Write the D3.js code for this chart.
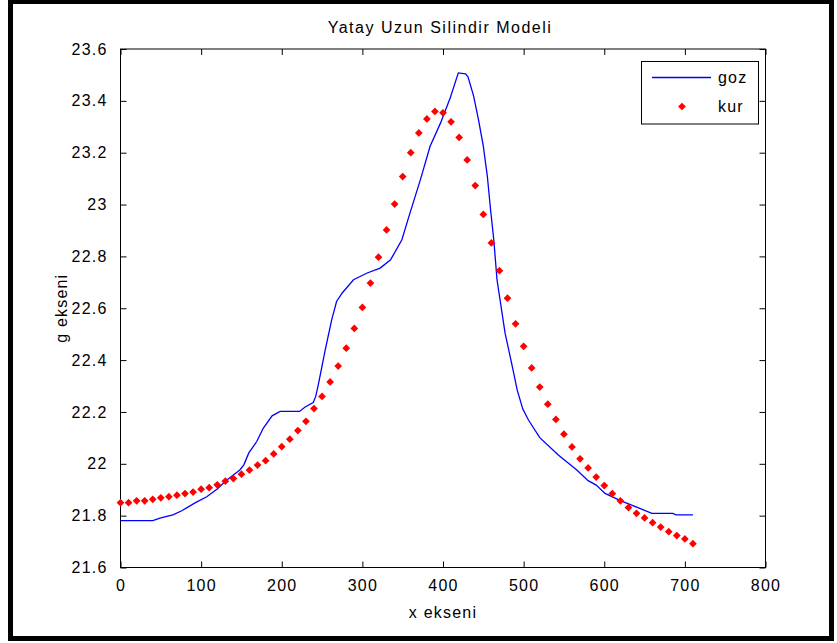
<!DOCTYPE html>
<html>
<head>
<meta charset="utf-8">
<script src="https://cdn.jsdelivr.net/npm/d3@7"></script>
<style>
  html, body { margin: 0; padding: 0; background: #fff; }
  svg { display: block; }
  text { font-family: "Liberation Sans", Arial, sans-serif; fill: #000; }
</style>
</head>
<body>
<svg id="chart" width="837" height="643"></svg>
<script>
// ---- Data ----
const titleText = "Yatay Uzun Silindir Modeli";
const xLabel = "x ekseni";
const yLabel = "g ekseni";
const seriesNames = ["goz", "kur"];

// goz (observed) – line vertices
const gozX = [0, 40, 50, 65, 76, 93, 107, 120, 132, 148, 153, 159, 169, 177, 188, 198, 222, 229, 239, 242, 245, 254, 262, 268, 275, 289, 306, 322, 335, 349, 359, 372, 384, 397, 409, 419, 428, 431, 438, 444, 450, 455, 459, 463, 467, 477, 486, 492, 499, 506, 520, 543, 566, 580, 590, 601, 620, 641, 659, 685, 689, 710];
const gozY = [21.781, 21.781, 21.791, 21.803, 21.819, 21.850, 21.873, 21.903, 21.938, 21.976, 21.996, 22.041, 22.086, 22.137, 22.185, 22.202, 22.202, 22.219, 22.236, 22.259, 22.300, 22.440, 22.556, 22.626, 22.659, 22.710, 22.736, 22.755, 22.787, 22.864, 22.967, 23.096, 23.225, 23.315, 23.412, 23.508, 23.504, 23.493, 23.418, 23.328, 23.225, 23.109, 22.980, 22.864, 22.710, 22.504, 22.375, 22.285, 22.211, 22.169, 22.101, 22.034, 21.976, 21.935, 21.918, 21.886, 21.858, 21.832, 21.809, 21.809, 21.803, 21.803];

// kur (computed) – markers
const kurX = [0, 10, 20, 30, 40, 50, 60, 70, 80, 90, 100, 110, 120, 130, 140, 150, 160, 170, 180, 190, 200, 210, 220, 230, 240, 250, 260, 270, 280, 290, 300, 310, 320, 330, 340, 350, 360, 370, 380, 390, 400, 410, 420, 430, 440, 450, 460, 470, 480, 490, 500, 510, 520, 530, 540, 550, 560, 570, 580, 590, 600, 610, 620, 630, 640, 650, 660, 670, 680, 690, 700, 710];
const kurY = [21.850, 21.850, 21.857, 21.857, 21.863, 21.869, 21.873, 21.879, 21.885, 21.891, 21.902, 21.908, 21.919, 21.933, 21.943, 21.960, 21.976, 21.995, 22.012, 22.038, 22.066, 22.095, 22.128, 22.164, 22.213, 22.260, 22.316, 22.377, 22.446, 22.522, 22.603, 22.697, 22.797, 22.902, 23.002, 23.108, 23.200, 23.276, 23.330, 23.359, 23.354, 23.319, 23.259, 23.172, 23.073, 22.962, 22.852, 22.745, 22.639, 22.540, 22.453, 22.370, 22.296, 22.230, 22.171, 22.114, 22.065, 22.019, 21.984, 21.949, 21.916, 21.885, 21.857, 21.831, 21.809, 21.791, 21.773, 21.756, 21.738, 21.723, 21.710, 21.692];

const xTicks = [0, 100, 200, 300, 400, 500, 600, 700, 800];
const yTicks = [21.6, 21.8, 22, 22.2, 22.4, 22.6, 22.8, 23, 23.2, 23.4, 23.6];

// ---- Layout ----
const svg = d3.select("#chart");
const L = 120.5, R = 765.5, T = 49, B = 567.5;
const x = d3.scaleLinear().domain([0, 800]).range([L, R]);
const y = d3.scaleLinear().domain([21.6, 23.6]).range([B, T]);
const tickLen = 6;
const fontPx = 16;
const ls = "1.2px";

// outer frame
svg.append("rect").attr("x", 10.5).attr("y", 1.5).attr("width", 821).attr("height", 637)
  .attr("fill", "none").attr("stroke", "#000").attr("stroke-width", 5);

// plot box
svg.append("rect").attr("x", L).attr("y", T).attr("width", R - L).attr("height", B - T)
  .attr("fill", "#fff").attr("stroke", "#000").attr("stroke-width", 1);

// axes with inward ticks (all four sides)
const fmtY = d => d3.format("")(+d.toFixed(1));
const axB = svg.append("g").attr("transform", `translate(0,${B})`)
  .call(d3.axisBottom(x).tickValues(xTicks).tickSizeInner(-tickLen).tickSizeOuter(0).tickPadding(12));
const axT = svg.append("g").attr("transform", `translate(0,${T})`)
  .call(d3.axisTop(x).tickValues(xTicks).tickSizeInner(-tickLen).tickSizeOuter(0).tickFormat(""));
const axL = svg.append("g").attr("transform", `translate(${L},0)`)
  .call(d3.axisLeft(y).tickValues(yTicks).tickSizeInner(-tickLen).tickSizeOuter(0).tickPadding(13).tickFormat(fmtY));
const axR = svg.append("g").attr("transform", `translate(${R},0)`)
  .call(d3.axisRight(y).tickValues(yTicks).tickSizeInner(-tickLen).tickSizeOuter(0).tickFormat(""));
[axB, axT, axL, axR].forEach(g => {
  g.select(".domain").remove();
  g.selectAll(".tick line").attr("stroke", "#000");
  g.selectAll("text").attr("font-size", fontPx).attr("fill", "#000")
    .attr("font-family", '"Liberation Sans", Arial, sans-serif').style("letter-spacing", ls);
});

// data: goz line
const line = d3.line().x((d, i) => x(gozX[i])).y((d, i) => y(gozY[i]));
svg.append("path").datum(gozX).attr("d", line)
  .attr("fill", "none").attr("stroke", "#0000ff").attr("stroke-width", 1.3);

// data: kur markers
const sym = d3.symbol().type(d3.symbolSquare).size(30);
svg.append("g").selectAll("path").data(kurX).join("path")
  .attr("d", sym)
  .attr("transform", (d, i) => `translate(${x(kurX[i])},${y(kurY[i])}) rotate(45)`)
  .attr("fill", "#ff0000");

// title and labels
svg.append("text").attr("x", (L + R) / 2 - 3).attr("y", 33).attr("text-anchor", "middle")
  .attr("font-size", fontPx).style("letter-spacing", "1.5px").text(titleText);
svg.append("text").attr("x", (L + R) / 2).attr("y", 618).attr("text-anchor", "middle")
  .attr("font-size", fontPx).style("letter-spacing", ls).text(xLabel);
svg.append("text").attr("transform", `translate(67,${(T + B) / 2}) rotate(-90)`)
  .attr("text-anchor", "middle").attr("font-size", fontPx).style("letter-spacing", ls).text(yLabel);

// legend
const lg = svg.append("g");
lg.append("rect").attr("x", 641.5).attr("y", 61.5).attr("width", 117).attr("height", 62.5)
  .attr("fill", "#fff").attr("stroke", "#000").attr("stroke-width", 1);
lg.append("line").attr("x1", 652).attr("x2", 711).attr("y1", 77.5).attr("y2", 77.5)
  .attr("stroke", "#0000ff").attr("stroke-width", 1.3);
lg.append("path").attr("d", sym).attr("transform", "translate(682,106.5) rotate(45)").attr("fill", "#ff0000");
lg.append("text").attr("x", 718).attr("y", 83).attr("font-size", fontPx).style("letter-spacing", ls).text(seriesNames[0]);
lg.append("text").attr("x", 718).attr("y", 112).attr("font-size", fontPx).style("letter-spacing", ls).text(seriesNames[1]);
</script>
</body>
</html>
